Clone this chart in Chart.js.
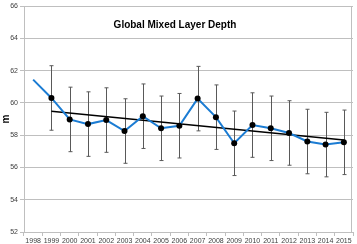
<!DOCTYPE html>
<html>
<head>
<meta charset="utf-8">
<script src="https://cdn.jsdelivr.net/npm/chart.js@4"></script>
<style>
  html, body { margin: 0; padding: 0; background: #fff; }
  #chart { display: block; }
</style>
</head>
<body>
<canvas id="chart" width="357" height="244"></canvas>
<script>
// Chart data
const years = ['1998', '1999', '2000', '2001', '2002', '2003', '2004', '2005', '2006',
               '2007', '2008', '2009', '2010', '2011', '2012', '2013', '2014', '2015'];
const mldValues = [61.45, 60.31, 58.98, 58.69, 58.94, 58.26, 59.18, 58.43, 58.59,
                   60.27, 59.12, 57.50, 58.63, 58.43, 58.14, 57.61, 57.42, 57.56];
const mldErrors = [null, 2.0, 2.0, 2.0, 2.0, 2.0, 2.0, 2.0, 2.0,
                   2.0, 2.0, 2.0, 2.0, 2.0, 2.0, 2.0, 2.0, 2.0];
const trendValues = [null, 59.49, null, null, null, null, null, null, null,
                     null, null, null, null, null, null, null, null, 57.71];
const markerSizes = [0, 3, 3, 3, 3, 3, 3, 3, 3, 3, 3, 3, 3, 3, 3, 3, 3, 3];
const yMin = 52, yMax = 66, yStep = 2;
const chartTitle = 'Global Mixed Layer Depth';
const yTitle = 'm';

// Draw error bars from the value scale
const errorBars = {
    id: 'errorBars',
    beforeDatasetsDraw(chart) {
        const ctx = chart.ctx;
        const xs = chart.scales.x;
        const ys = chart.scales.y;
        ctx.save();
        ctx.strokeStyle = '#595959';
        ctx.lineWidth = 1;
        mldErrors.forEach(function(err, i) {
            if (err === null) return;
            const x = Math.round(xs.getPixelForValue(i)) + 0.5;
            const top = ys.getPixelForValue(mldValues[i] + err);
            const bot = ys.getPixelForValue(mldValues[i] - err);
            ctx.beginPath();
            ctx.moveTo(x, top);
            ctx.lineTo(x, bot);
            ctx.moveTo(x - 2, top);
            ctx.lineTo(x + 2, top);
            ctx.moveTo(x - 2, bot);
            ctx.lineTo(x + 2, bot);
            ctx.stroke();
        });
        ctx.restore();
    }
};

// Title inside the plot and right border
const decorations = {
    id: 'decorations',
    afterDraw(chart) {
        const ctx = chart.ctx;
        const a = chart.chartArea;
        ctx.save();
        ctx.strokeStyle = '#bfbfbf';
        ctx.lineWidth = 1;
        ctx.beginPath();
        ctx.moveTo(a.right - 1.5, a.top);
        ctx.lineTo(a.right - 1.5, a.bottom);
        ctx.stroke();
        ctx.fillStyle = '#000';
        ctx.font = 'bold 10px "Liberation Sans", Arial, sans-serif';
        ctx.textAlign = 'center';
        ctx.textBaseline = 'middle';
        ctx.fillText(chartTitle, a.left + 151, a.top + 19);
        ctx.restore();
    }
};

new Chart(document.getElementById('chart'), {
    type: 'line',
    data: {
        labels: years,
        datasets: [{
            label: 'Trend',
            data: trendValues,
            borderColor: '#000',
            borderWidth: 1.5,
            pointRadius: 0,
            spanGaps: true,
            order: 2
        }, {
            label: 'Mixed Layer Depth',
            data: mldValues,
            borderColor: '#1b7cd3',
            borderWidth: 2,
            pointRadius: markerSizes,
            pointBackgroundColor: '#000',
            pointBorderColor: '#000',
            pointBorderWidth: 0,
            tension: 0,
            order: 1
        }]
    },
    options: {
        responsive: false,
        animation: false,
        devicePixelRatio: 1,
        layout: { padding: { top: 3, right: 0, left: 0, bottom: 0 } },
        plugins: {
            legend: { display: false },
            tooltip: { enabled: false },
            title: { display: false }
        },
        scales: {
            x: {
                offset: true,
                grid: {
                    offset: true,
                    drawOnChartArea: false,
                    drawTicks: true,
                    tickLength: 4,
                    color: '#bfbfbf'
                },
                border: { color: '#bfbfbf' },
                ticks: {
                    color: '#404040',
                    font: { size: 7, family: '"Liberation Sans", Arial, sans-serif' },
                    padding: 1,
                    maxRotation: 0,
                    autoSkip: false
                },
                afterFit(scale) { scale.height = 12; }
            },
            y: {
                min: yMin,
                max: yMax,
                ticks: {
                    stepSize: yStep,
                    color: '#404040',
                    font: { size: 7, family: '"Liberation Sans", Arial, sans-serif' },
                    padding: 2
                },
                grid: { color: '#bfbfbf', tickLength: 4 },
                border: { color: '#bfbfbf' },
                title: {
                    display: true,
                    text: yTitle,
                    color: '#000',
                    font: { size: 10, weight: 'bold', family: '"Liberation Sans", Arial, sans-serif' },
                    padding: 0
                },
                afterFit(scale) { scale.width = 24; }
            }
        }
    },
    plugins: [errorBars, decorations]
});
</script>
</body>
</html>
